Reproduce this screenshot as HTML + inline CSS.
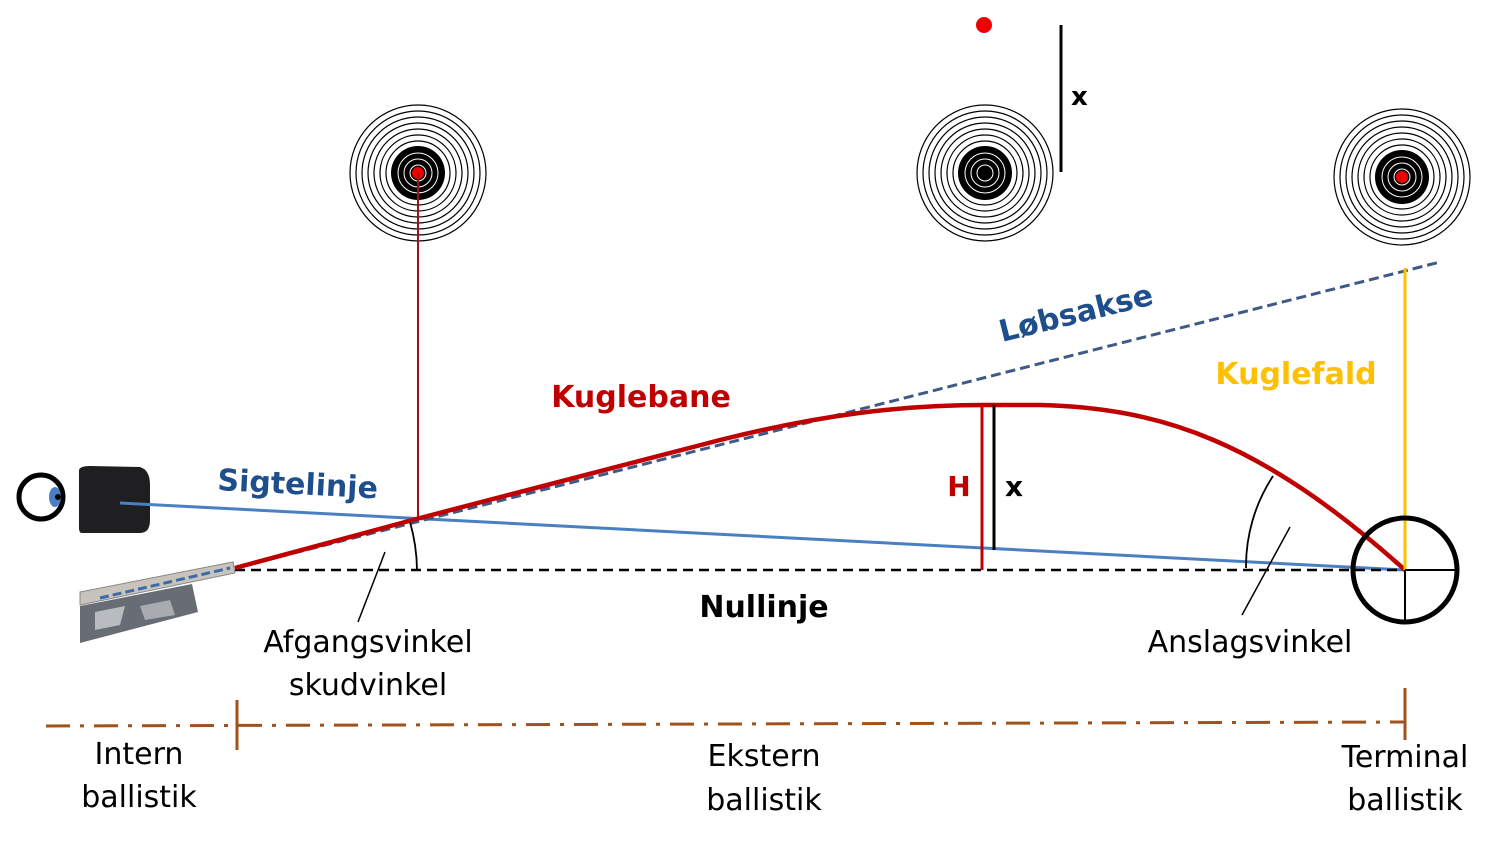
<!DOCTYPE html>
<html><head><meta charset="utf-8"><style>
html,body{margin:0;padding:0;background:#fff;}
svg{display:block;}
text{font-family:"DejaVu Sans","Liberation Sans",sans-serif;}
</style></head><body>
<svg width="1492" height="844" viewBox="0 0 1492 844" xmlns="http://www.w3.org/2000/svg">
<defs>
<g id="tgt">
<circle r="68" fill="#fff" stroke="#000" stroke-width="1.2"/>
<circle r="62" fill="none" stroke="#000" stroke-width="1.2"/>
<circle r="56" fill="none" stroke="#000" stroke-width="1.2"/>
<circle r="50" fill="none" stroke="#000" stroke-width="1.2"/>
<circle r="44" fill="none" stroke="#000" stroke-width="1.2"/>
<circle r="38" fill="none" stroke="#000" stroke-width="1.2"/>
<circle r="32" fill="none" stroke="#000" stroke-width="1.2"/>
<circle r="27" fill="#000"/>
<circle r="20" fill="none" stroke="#fff" stroke-width="1"/>
<circle r="14" fill="none" stroke="#fff" stroke-width="1"/>
<circle r="8" fill="none" stroke="#fff" stroke-width="1"/>
</g>
</defs>
<use href="#tgt" x="418" y="173"/>
<use href="#tgt" x="985" y="173"/>
<use href="#tgt" x="1402" y="177"/>
<circle cx="418" cy="173" r="6" fill="#e00"/>
<circle cx="1402" cy="177" r="6" fill="#e00"/>
<circle cx="984" cy="25" r="8" fill="#e00"/>
<line x1="1061" y1="25" x2="1061" y2="172" stroke="#000" stroke-width="3"/>
<text x="1071" y="105" font-size="26" font-weight="bold">x</text>
<line x1="418" y1="173" x2="418" y2="518" stroke="#a01010" stroke-width="2"/>
<!-- rifle -->
<polygon points="80,606 192,584 198,612 80,643" fill="#686c74"/>
<polygon points="95,612 125,606 120,625 95,630" fill="#b8bcc0"/>
<polygon points="140,606 170,600 175,615 145,620" fill="#a8acb0"/>
<polygon points="80,592 233,562 235,573 80,605" fill="#c8c4bc" stroke="#888" stroke-width="1"/>
<line x1="100" y1="598" x2="230" y2="568" stroke="#3e6aa8" stroke-width="3" stroke-dasharray="9,4"/>
<!-- eye & scope -->
<circle cx="41" cy="497" r="22" fill="none" stroke="#000" stroke-width="5"/>
<ellipse cx="55" cy="497" rx="6" ry="10" fill="#4a7fc1"/>
<circle cx="58" cy="497" r="3" fill="#000"/>
<path d="M79,470 Q80,466 90,466 L140,467 Q150,470 150,485 L150,520 Q150,533 140,533 L82,533 Q79,533 79,528 Z" fill="#1f1f21"/>
<!-- lines -->
<line x1="120" y1="503" x2="1405" y2="570" stroke="#4a7fc1" stroke-width="3"/>
<line x1="235" y1="570" x2="1405" y2="570" stroke="#000" stroke-width="2.5" stroke-dasharray="10,6"/>
<line x1="235" y1="568" x2="1440" y2="262" stroke="#3e5a85" stroke-width="3" stroke-dasharray="10,5"/>
<path d="M235,568 L420,518 L720,440 C820,415 900,405 985,405 L1040,405 C1160,408 1260,440 1405,570" fill="none" stroke="#c00000" stroke-width="4.5"/>
<line x1="1405" y1="268" x2="1405" y2="570" stroke="#ffc000" stroke-width="3"/>
<line x1="982" y1="405" x2="982" y2="570" stroke="#c00000" stroke-width="3"/>
<line x1="994" y1="405" x2="994" y2="550" stroke="#000" stroke-width="3"/>
<circle cx="1405" cy="570" r="52" fill="none" stroke="#000" stroke-width="5"/>
<line x1="1405" y1="570" x2="1457" y2="570" stroke="#000" stroke-width="2"/>
<line x1="1405" y1="570" x2="1405" y2="622" stroke="#000" stroke-width="2"/>
<!-- arcs -->
<path d="M410,522 A180 180 0 0 1 417,570" fill="none" stroke="#000" stroke-width="1.8"/>
<line x1="385" y1="552" x2="358" y2="622" stroke="#000" stroke-width="1.5"/>
<path d="M1273,476 A165 165 0 0 0 1246,568" fill="none" stroke="#000" stroke-width="1.8"/>
<line x1="1290" y1="527" x2="1242" y2="615" stroke="#000" stroke-width="1.5"/>
<!-- bottom axis -->
<line x1="46" y1="726" x2="1405" y2="722" stroke="#a0521e" stroke-width="3" stroke-dasharray="24,10,4,10"/>
<line x1="237" y1="700" x2="237" y2="750" stroke="#a0521e" stroke-width="3"/>
<line x1="1405" y1="688" x2="1405" y2="740" stroke="#a0521e" stroke-width="3"/>
<!-- labels -->
<text x="641" y="407" font-size="30" font-weight="bold" fill="#c00000" text-anchor="middle">Kuglebane</text>
<text x="1296" y="384" font-size="30" font-weight="bold" fill="#ffc000" text-anchor="middle">Kuglefald</text>
<text x="0" y="0" font-size="30" font-weight="bold" fill="#1f4e8c" transform="translate(1002 342) rotate(-14)">Løbsakse</text>
<text x="0" y="0" font-size="30" font-weight="bold" fill="#1f4e8c" transform="translate(217 490) rotate(3)">Sigtelinje</text>
<text x="959" y="496" font-size="28" font-weight="bold" fill="#c00000" text-anchor="middle">H</text>
<text x="1014" y="496" font-size="28" font-weight="bold" fill="#000" text-anchor="middle">x</text>
<text x="764" y="617" font-size="30" font-weight="bold" text-anchor="middle">Nullinje</text>
<text x="368" y="652" font-size="30" text-anchor="middle">Afgangsvinkel</text>
<text x="368" y="695" font-size="30" text-anchor="middle">skudvinkel</text>
<text x="1250" y="652" font-size="30" text-anchor="middle">Anslagsvinkel</text>
<text x="139" y="764" font-size="30" text-anchor="middle">Intern</text>
<text x="139" y="807" font-size="30" text-anchor="middle">ballistik</text>
<text x="764" y="766" font-size="30" text-anchor="middle">Ekstern</text>
<text x="764" y="810" font-size="30" text-anchor="middle">ballistik</text>
<text x="1405" y="767" font-size="30" text-anchor="middle">Terminal</text>
<text x="1405" y="810" font-size="30" text-anchor="middle">ballistik</text>
</svg>
</body></html>
